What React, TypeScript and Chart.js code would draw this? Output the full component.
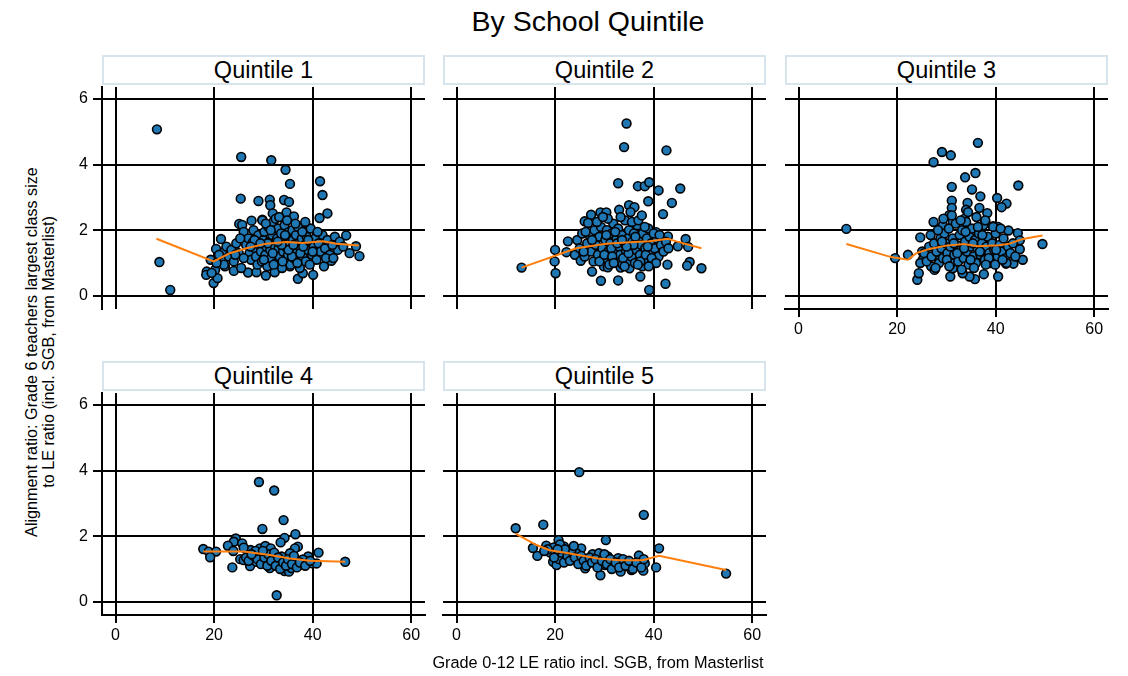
import React, { useEffect, useRef } from "react";
import { Chart, registerables } from "chart.js";

Chart.register(...registerables);

const FONT = '"Liberation Sans", Arial, Helvetica, sans-serif';

const chartTitle = "By School Quintile";
const xAxisTitle = "Grade 0-12 LE ratio incl. SGB, from Masterlist";
const yAxisTitle1 = "Alignment ratio: Grade 6 teachers largest class size";
const yAxisTitle2 = "to LE ratio (incl. SGB, from Masterlist)";
const panelTitles = ["Quintile 1", "Quintile 2", "Quintile 3", "Quintile 4", "Quintile 5"];

const xTicks = [0, 20, 40, 60];
const yTicks = [0, 2, 4, 6];
const xMin = -2.75;
const xMax = 62.8;
const yMin = -0.4;
const yMax = 6.36;

type P = [number, number];

const q1Points: P[] = [
  [8.4, 5.07], [8.9, 1.03], [11.1, 0.18], [25.5, 4.23], [31.6, 4.13], [34.5, 3.84], [35.4, 3.41], [41.5, 3.49],
  [42.0, 3.07], [25.4, 2.96], [29.0, 2.89], [31.3, 2.93], [31.4, 2.76], [34.2, 2.92], [35.2, 2.86], [43.0, 2.51],
  [41.4, 2.37], [31.9, 2.51], [34.7, 2.54], [36.2, 2.42], [27.6, 2.29], [29.8, 2.32], [25.1, 2.19], [25.7, 2.16],
  [46.8, 1.84], [47.5, 1.30], [49.5, 1.21], [48.8, 1.51], [45.1, 1.40], [43.8, 1.07], [42.3, 0.90], [40.1, 0.64],
  [37.0, 0.52], [38.0, 0.69], [21.4, 1.73], [20.4, 1.43], [22.1, 1.35], [18.5, 0.74], [18.4, 0.64], [19.9, 0.39],
  [20.7, 0.54], [20.2, 0.79], [24.0, 0.76], [22.2, 0.90], [19.3, 1.10], [21.9, 1.10], [24.2, 1.40], [26.9, 0.71],
  [28.6, 0.72], [30.5, 0.62], [32.3, 0.72], [35.4, 0.90],
  [26.0, 1.95], [26.5, 1.55], [27.0, 1.75], [27.2, 1.30], [27.5, 1.10], [27.8, 1.62], [28.0, 2.00], [28.3, 1.45],
  [28.5, 1.20], [28.8, 0.95], [29.0, 1.85], [29.2, 1.55], [29.5, 1.35], [29.7, 1.05], [30.0, 1.70], [30.2, 1.95],
  [30.4, 1.25], [30.6, 1.50], [30.8, 0.90], [31.0, 2.10], [31.2, 1.65], [31.4, 1.40], [31.6, 1.15], [31.8, 1.85],
  [32.0, 2.25], [32.2, 1.55], [32.4, 1.30], [32.6, 1.00], [32.8, 1.75], [33.0, 2.05], [33.1, 1.45], [33.3, 1.20],
  [33.5, 1.60], [33.6, 1.90], [33.8, 0.85], [34.0, 1.35], [34.2, 1.70], [34.3, 2.15], [34.5, 1.50], [34.7, 1.10],
  [34.9, 1.80], [35.0, 1.25], [35.2, 1.95], [35.4, 1.60], [35.5, 0.95], [35.7, 1.40], [35.9, 2.00], [36.0, 1.70],
  [36.2, 1.15], [36.4, 1.50], [36.6, 1.85], [36.8, 1.30], [37.0, 2.10], [37.2, 1.60], [37.4, 0.85], [37.6, 1.45],
  [37.8, 1.75], [38.0, 1.20], [38.2, 1.95], [38.4, 1.55], [38.6, 1.05], [38.8, 1.80], [39.0, 1.40], [39.3, 1.65],
  [39.6, 2.05], [39.9, 1.25], [40.2, 1.50], [40.5, 1.75], [40.8, 1.10], [41.2, 1.60], [41.6, 1.35], [42.0, 1.85],
  [42.5, 1.45], [43.0, 1.70], [43.5, 1.25], [44.0, 1.55], [44.5, 1.80], [45.5, 1.65], [46.2, 1.50], [22.5, 1.50],
  [23.0, 1.20], [23.5, 1.40], [24.0, 1.05], [24.5, 1.60], [25.0, 1.30], [25.5, 0.85], [26.0, 1.15], [21.0, 1.25],
  [22.0, 0.95], [19.5, 0.70], [20.5, 1.00], [29.8, 2.30], [30.5, 2.20], [32.5, 2.35], [33.2, 2.40], [34.8, 2.30],
  [36.5, 2.20], [38.5, 2.25], [31.5, 2.00], [33.9, 1.05], [35.8, 1.20], [32.1, 0.95], [30.1, 1.10], [28.2, 1.70],
  [27.4, 1.50], [36.9, 1.00], [39.4, 0.95], [41.0, 1.95], [40.0, 1.35], [37.5, 1.30], [35.1, 1.40], [33.7, 1.55],
  [31.9, 1.30], [30.9, 1.60], [29.4, 1.60], [34.4, 1.85], [36.1, 1.55], [38.1, 1.50], [32.9, 1.65], [37.9, 1.95],
  [39.1, 1.70], [42.7, 1.15], [44.2, 1.15], [25.3, 1.75], [24.3, 1.25],
];
const q1Lowess: P[] = [
  [8.3, 1.74], [19.9, 1.05], [23.2, 1.30], [26.6, 1.45], [30.6, 1.59], [34.7, 1.64], [38.0, 1.61], [42.1, 1.66],
  [44.8, 1.59], [49.4, 1.53],
];

const q2Points: P[] = [
  [34.5, 5.25], [34.0, 4.53], [42.6, 4.43], [32.8, 3.43], [36.8, 3.34], [38.2, 3.34], [39.1, 3.46], [41.0, 3.21],
  [45.4, 3.27], [38.9, 2.88], [43.7, 2.83], [35.0, 2.76], [36.1, 2.70], [33.0, 2.62], [29.2, 2.54], [30.4, 2.54],
  [27.3, 2.47], [41.9, 2.49], [26.0, 2.27], [26.7, 2.22], [22.6, 1.66], [20.0, 1.40], [19.9, 1.05], [20.1, 0.69],
  [13.2, 0.86], [22.3, 1.33], [24.0, 1.25], [25.2, 1.07], [27.5, 0.74], [29.3, 0.46], [32.8, 0.47], [37.3, 0.59],
  [39.1, 0.18], [42.4, 0.37], [44.9, 1.51], [46.5, 1.73], [47.0, 1.49], [47.3, 1.03], [46.8, 0.92], [49.7, 0.84],
  [42.9, 1.81], [42.8, 0.95], [40.5, 1.94], [29.9, 0.90], [30.7, 0.87], [33.3, 0.86], [35.1, 0.84], [37.7, 0.90],
  [24.5, 1.70], [25.0, 1.45], [25.5, 1.90], [26.0, 1.20], [26.5, 1.60], [27.0, 1.85], [27.3, 1.35], [27.8, 1.05],
  [28.0, 2.00], [28.3, 1.55], [28.7, 1.25], [29.0, 1.80], [29.3, 2.10], [29.6, 1.45], [29.9, 1.15], [30.2, 1.70],
  [30.5, 2.00], [30.8, 1.35], [31.0, 0.95], [31.2, 1.60], [31.5, 1.90], [31.8, 2.20], [32.0, 1.40], [32.3, 1.10],
  [32.5, 1.75], [32.8, 2.05], [33.0, 1.50], [33.2, 1.25], [33.5, 1.85], [33.7, 0.95], [34.0, 1.60], [34.2, 2.30],
  [34.4, 1.35], [34.6, 1.05], [34.8, 1.75], [35.0, 2.00], [35.2, 1.45], [35.5, 1.20], [35.7, 1.65], [36.0, 1.90],
  [36.2, 1.00], [36.5, 1.40], [36.7, 2.15], [37.0, 1.70], [37.2, 1.25], [37.5, 1.55], [37.8, 1.90], [38.0, 1.10],
  [38.3, 1.45], [38.6, 1.75], [38.9, 2.05], [39.2, 1.30], [39.5, 1.60], [39.8, 1.00], [40.2, 1.45], [40.6, 1.75],
  [41.0, 1.20], [41.5, 1.55], [42.0, 1.35], [42.5, 1.65], [43.0, 1.45], [29.0, 1.05], [30.0, 1.25], [31.4, 1.45],
  [32.6, 1.60], [33.8, 1.15], [34.9, 1.30], [35.9, 1.55], [37.3, 1.05], [38.4, 1.25], [39.6, 1.15], [40.5, 1.00],
  [28.5, 2.25], [30.7, 2.35], [33.3, 2.40], [35.6, 2.25], [36.9, 2.30], [38.2, 2.10], [32.2, 1.95], [27.5, 1.70],
  [26.2, 1.95], [25.8, 1.35], [36.3, 1.80], [34.5, 1.50], [33.6, 1.70], [31.6, 1.20], [30.4, 1.85], [38.8, 1.50],
  [40.0, 1.90], [41.2, 1.85], [39.0, 0.90], [36.8, 0.95], [34.1, 0.90], [31.9, 1.00], [29.7, 2.40], [37.6, 2.45],
  [35.3, 2.55],
];
const q2Lowess: P[] = [
  [13.2, 0.86], [24.3, 1.45], [30.4, 1.59], [35.1, 1.63], [39.2, 1.66], [42.9, 1.74], [44.6, 1.66], [49.7, 1.45],
];

const q3Points: P[] = [
  [9.7, 2.04], [36.4, 4.66], [29.1, 4.38], [30.9, 4.28], [27.4, 4.07], [35.9, 3.74], [33.8, 3.61], [31.1, 3.32],
  [35.2, 3.24], [44.6, 3.36], [36.9, 3.03], [40.3, 2.98], [31.1, 2.90], [34.3, 2.83], [42.2, 2.81], [41.2, 2.70],
  [31.1, 2.68], [34.0, 2.62], [36.7, 2.68], [38.3, 2.52], [30.6, 2.46], [33.7, 2.35], [27.4, 2.25], [31.3, 2.24],
  [29.3, 2.14], [37.9, 2.24], [39.5, 2.12], [40.5, 2.10], [42.6, 1.99], [44.5, 1.91], [44.9, 1.69], [44.9, 1.42],
  [45.5, 1.10], [49.5, 1.58], [43.6, 0.98], [40.5, 0.59], [37.6, 0.66], [35.8, 0.51], [34.7, 0.59], [33.3, 0.69],
  [30.8, 0.59], [31.3, 0.84], [24.1, 0.49], [24.4, 0.69], [24.7, 1.78], [22.2, 1.25], [19.6, 1.15], [25.1, 1.35],
  [25.2, 1.10], [24.7, 1.00], [26.9, 0.90], [27.6, 0.79], [28.6, 1.10], [42.1, 0.98],
  [25.5, 1.30], [26.0, 1.05], [26.5, 1.50], [27.0, 1.20], [27.5, 1.60], [28.0, 1.35], [28.5, 1.00], [28.8, 1.75],
  [29.0, 1.45], [29.3, 1.15], [29.6, 1.90], [29.9, 1.60], [30.2, 1.30], [30.5, 2.05], [30.8, 1.50], [31.0, 1.00],
  [31.3, 1.75], [31.6, 1.25], [31.9, 2.20], [32.1, 1.55], [32.4, 1.05], [32.7, 1.85], [33.0, 1.40], [33.2, 2.00],
  [33.5, 1.15], [33.8, 1.65], [34.0, 2.25], [34.2, 1.35], [34.5, 0.95], [34.7, 1.80], [35.0, 1.50], [35.2, 2.05],
  [35.5, 1.20], [35.8, 1.70], [36.0, 1.00], [36.3, 1.45], [36.6, 1.90], [36.9, 1.25], [37.2, 1.60], [37.5, 2.15],
  [37.8, 1.10], [38.1, 1.50], [38.4, 1.80], [38.7, 1.30], [39.0, 1.00], [39.3, 1.60], [39.7, 1.40], [40.0, 1.90],
  [40.4, 1.20], [40.8, 1.55], [41.2, 1.35], [41.6, 1.75], [42.0, 1.15], [42.5, 1.50], [43.0, 1.30], [43.5, 1.60],
  [44.0, 1.20], [26.8, 1.85], [28.3, 2.00], [29.4, 2.35], [31.1, 2.45], [32.9, 2.30], [34.4, 2.55], [36.1, 2.40],
  [37.9, 2.30], [39.5, 2.10], [41.0, 2.05], [30.1, 1.10], [32.2, 1.30], [33.6, 1.45], [35.4, 1.60], [36.8, 1.35],
  [38.6, 1.15], [40.1, 1.40], [31.5, 1.60], [34.9, 1.10], [37.3, 1.85], [39.9, 0.95], [42.2, 1.00], [27.8, 0.85],
  [30.6, 0.90], [33.1, 0.80], [35.6, 0.85], [38.0, 0.95], [41.4, 1.10], [29.1, 1.65], [36.4, 2.10], [33.9, 1.95],
];
const q3Lowess: P[] = [
  [9.7, 1.58], [18.8, 1.18], [22.2, 1.10], [23.9, 1.30], [26.6, 1.43], [29.9, 1.53], [33.6, 1.58], [36.4, 1.51],
  [40.7, 1.54], [42.8, 1.59], [45.5, 1.73], [49.5, 1.84],
];

const q4Points: P[] = [
  [29.1, 3.65], [32.2, 3.39], [34.1, 2.49], [29.8, 2.22], [32.7, 0.20], [36.5, 2.06], [34.3, 1.95], [33.5, 1.81],
  [37.0, 1.68], [36.4, 1.63], [24.4, 1.93], [24.0, 1.83], [25.7, 1.78], [22.8, 1.71], [17.8, 1.61], [18.9, 1.53],
  [20.4, 1.53], [19.2, 1.36], [23.9, 1.55], [23.7, 1.05], [25.3, 1.30], [26.0, 1.27], [27.4, 1.58], [27.3, 1.09],
  [29.3, 1.63], [30.4, 1.70], [31.5, 1.63], [31.3, 1.03], [31.8, 1.18], [34.3, 0.94], [35.2, 0.92], [35.7, 1.03],
  [37.7, 1.13], [39.1, 1.38], [40.0, 1.17], [40.8, 1.17], [41.2, 1.50], [46.6, 1.22], [28.6, 1.22], [30.0, 1.22],
  [32.7, 1.27], [33.7, 1.38], [35.4, 1.48], [38.0, 1.29],
  [26.5, 1.35], [27.0, 1.25], [28.0, 1.40], [28.8, 1.30], [29.5, 1.15], [30.2, 1.35], [30.8, 1.10], [31.0, 1.45],
  [31.6, 1.25], [32.2, 1.50], [32.5, 1.10], [33.0, 1.35], [33.4, 1.00], [34.0, 1.20], [34.6, 1.10], [35.0, 1.30],
  [35.8, 1.15], [36.2, 1.40], [36.8, 1.05], [37.4, 1.20], [38.5, 1.10], [39.5, 1.25], [26.0, 1.65], [28.4, 1.55],
  [29.9, 1.55], [27.6, 1.45],
];
const q4Lowess: P[] = [
  [17.8, 1.53], [26.0, 1.53], [31.3, 1.43], [35.4, 1.32], [39.4, 1.25], [46.6, 1.22],
];

const q5Points: P[] = [
  [24.9, 3.95], [38.0, 2.65], [12.0, 2.24], [17.6, 2.35], [30.3, 1.88], [20.7, 1.88], [41.1, 1.63], [40.5, 1.05],
  [54.7, 0.86], [29.2, 0.81], [37.9, 0.95], [33.3, 0.92], [15.5, 1.64], [16.4, 1.40], [18.2, 1.71], [19.7, 1.66],
  [21.8, 1.69], [19.6, 1.22], [20.3, 1.12], [25.3, 1.63], [23.6, 1.58], [24.3, 1.48], [26.1, 1.02], [27.6, 1.45],
  [28.9, 1.48], [30.7, 1.38], [32.8, 1.33], [34.5, 1.22], [35.5, 0.97], [37.0, 1.41], [38.2, 1.17], [22.3, 1.33],
  [25.0, 1.27], [26.7, 1.17], [28.0, 1.22], [30.1, 1.12], [31.8, 1.12], [33.4, 1.22], [36.0, 1.12],
  [20.0, 1.45], [20.8, 1.30], [21.3, 1.50], [21.8, 1.20], [22.5, 1.40], [23.0, 1.25], [23.3, 1.55], [24.0, 1.35],
  [24.7, 1.15], [25.3, 1.40], [25.8, 1.25], [26.3, 1.10], [27.0, 1.35], [27.5, 1.20], [28.2, 1.30], [28.6, 1.05],
  [29.5, 1.25], [30.0, 1.45], [30.5, 1.15], [31.2, 1.30], [31.5, 1.00], [32.3, 1.20], [33.0, 1.05], [33.8, 1.30],
  [34.3, 1.10], [35.0, 1.25], [35.8, 1.00], [36.5, 1.20], [37.5, 1.05], [38.0, 1.30], [21.0, 1.75], [19.0, 1.50],
  [18.5, 1.60], [17.8, 1.55], [22.0, 1.60], [23.8, 1.70], [20.5, 1.60], [19.8, 1.35],
];
const q5Lowess: P[] = [
  [12.0, 2.08], [16.2, 1.73], [18.9, 1.57], [23.0, 1.47], [28.7, 1.32], [33.1, 1.27], [37.8, 1.27], [41.1, 1.40],
  [54.7, 0.97],
];

const PW = 323;
const PH = 222;
const PAD_L = 45;
const PAD_T = 20;
const PAD_R = 20;
const PAD_B = 40;

type PanelProps = {
  title: string;
  left: number;
  top: number;
  points: P[];
  lowess: P[];
  yLabels: boolean;
  xLabels: boolean;
};

function Panel({ title, left, top, points, lowess, yLabels, xLabels }: PanelProps) {
  const ref = useRef<HTMLCanvasElement>(null);
  useEffect(() => {
    if (!ref.current) return;
    const zeroPad = (s: any) => {
      s.paddingLeft = 0;
      s.paddingRight = 0;
      s.paddingTop = 0;
      s.paddingBottom = 0;
    };
    const chart = new Chart(ref.current, {
      type: "scatter",
      data: {
        datasets: [
          {
            data: lowess.map(([x, y]) => ({ x, y })),
            showLine: true,
            borderColor: "#ff7f0e",
            backgroundColor: "#ff7f0e",
            borderWidth: 2,
            pointRadius: 0,
            tension: 0,
            order: 0,
          } as any,
          {
            data: points.map(([x, y]) => ({ x, y })),
            showLine: false,
            pointRadius: 4.4,
            pointBackgroundColor: "#1f77b4",
            pointBorderColor: "#000000",
            pointBorderWidth: 1.6,
            order: 1,
          } as any,
        ],
      },
      options: {
        animation: false,
        responsive: false,
        devicePixelRatio: 1,
        events: [],
        layout: { padding: { top: PAD_T, right: PAD_R, left: 0, bottom: 0 }, autoPadding: false } as any,
        plugins: { legend: { display: false }, tooltip: { enabled: false }, title: { display: false } },
        scales: {
          x: {
            type: "linear",
            min: xMin,
            max: xMax,
            afterBuildTicks: (s: any) => {
              s.ticks = xTicks.map((v) => ({ value: v }));
            },
            afterFit: (s: any) => {
              s.height = PAD_B;
              zeroPad(s);
            },
            grid: { color: "#000", lineWidth: 2, drawTicks: xLabels, tickLength: 8 },
            border: { display: xLabels, color: "#000", width: 2 },
            ticks: {
              display: xLabels,
              padding: 3,
              color: "#000",
              maxRotation: 0,
              font: { family: FONT, size: 16 },
            },
          },
          y: {
            type: "linear",
            min: yMin,
            max: yMax,
            afterBuildTicks: (s: any) => {
              s.ticks = yTicks.map((v) => ({ value: v }));
            },
            afterFit: (s: any) => {
              s.width = PAD_L;
              zeroPad(s);
            },
            grid: { color: "#000", lineWidth: 2, drawTicks: yLabels, tickLength: 9 },
            border: { display: yLabels, color: "#000", width: 2 },
            ticks: {
              display: yLabels,
              padding: 5,
              color: "#000",
              font: { family: FONT, size: 16 },
            },
          },
        },
      },
    });
    return () => chart.destroy();
  }, []);

  return (
    <>
      <div
        style={{
          position: "absolute",
          left,
          top: top - 32,
          width: PW,
          height: 30,
          boxSizing: "border-box",
          border: "2px solid #d7e4ec",
          background: "#fff",
          fontFamily: FONT,
          fontSize: 23.5,
          lineHeight: "26px",
          textAlign: "center",
          color: "#000",
        }}
      >
        {title}
      </div>
      <canvas
        ref={ref}
        width={PAD_L + PW + PAD_R}
        height={PAD_T + PH + PAD_B}
        style={{ position: "absolute", left: left - PAD_L, top: top - PAD_T }}
      />
    </>
  );
}

export default function App() {
  const topRow = 87;
  const bottomRow = 393;
  const cols = [102, 443, 785];
  return (
    <div
      style={{
        position: "absolute",
        left: 0,
        top: 0,
        width: 1128,
        height: 676,
        background: "#fff",
        overflow: "hidden",
        fontFamily: FONT,
      }}
    >
      <div
        style={{
          position: "absolute",
          left: 388,
          top: 3,
          width: 400,
          textAlign: "center",
          fontSize: 28.5,
          lineHeight: "36px",
          color: "#000",
        }}
      >
        {chartTitle}
      </div>
      <Panel title={panelTitles[0]} left={cols[0]} top={topRow} points={q1Points} lowess={q1Lowess} yLabels={true} xLabels={false} />
      <Panel title={panelTitles[1]} left={cols[1]} top={topRow} points={q2Points} lowess={q2Lowess} yLabels={false} xLabels={false} />
      <Panel title={panelTitles[2]} left={cols[2]} top={topRow} points={q3Points} lowess={q3Lowess} yLabels={false} xLabels={true} />
      <Panel title={panelTitles[3]} left={cols[0]} top={bottomRow} points={q4Points} lowess={q4Lowess} yLabels={true} xLabels={true} />
      <Panel title={panelTitles[4]} left={cols[1]} top={bottomRow} points={q5Points} lowess={q5Lowess} yLabels={false} xLabels={true} />
      <div
        style={{
          position: "absolute",
          left: 398,
          top: 653,
          width: 400,
          textAlign: "center",
          fontSize: 16.3,
          lineHeight: "19px",
          color: "#000",
          whiteSpace: "nowrap",
        }}
      >
        {xAxisTitle}
      </div>
      <div
        style={{
          position: "absolute",
          left: 40 - 250,
          top: 352 - 17,
          width: 500,
          height: 34,
          transform: "rotate(-90deg)",
          transformOrigin: "50% 50%",
          textAlign: "center",
          fontSize: 16.2,
          lineHeight: "17px",
          color: "#000",
          whiteSpace: "nowrap",
        }}
      >
        <div>{yAxisTitle1}</div>
        <div>{yAxisTitle2}</div>
      </div>
    </div>
  );
}
